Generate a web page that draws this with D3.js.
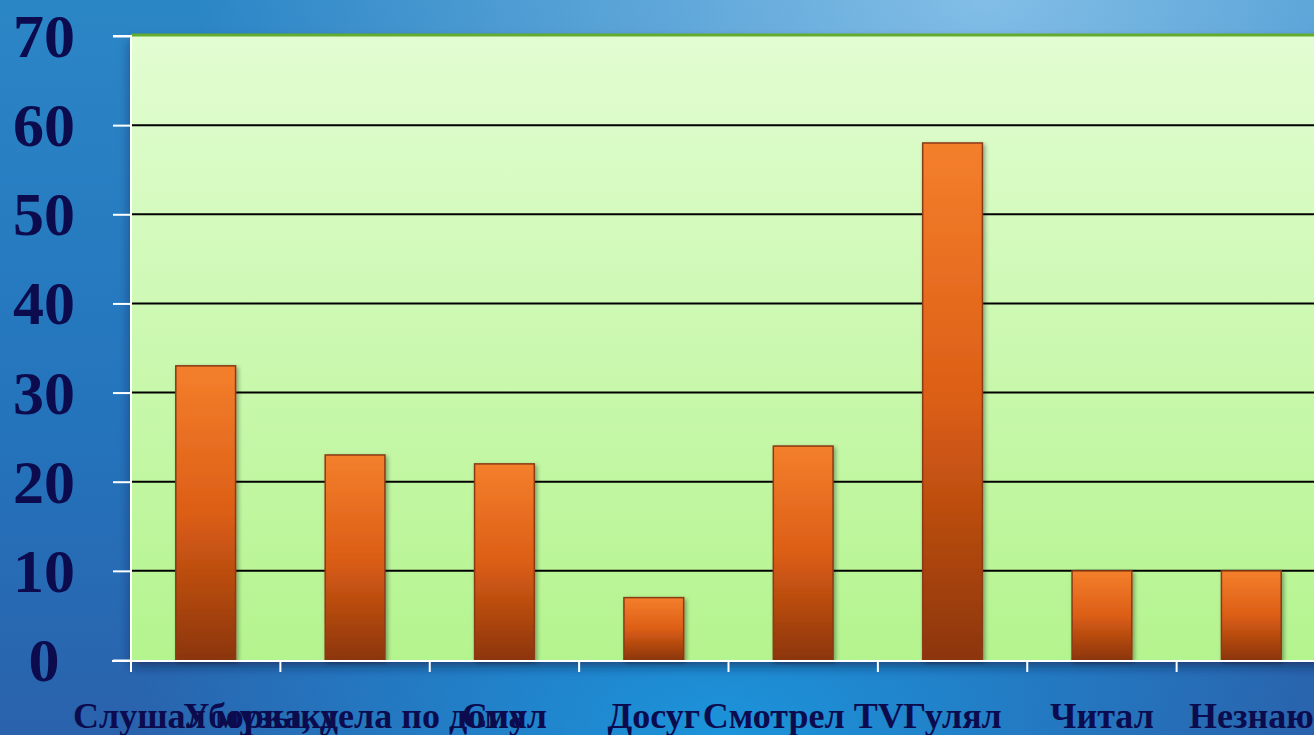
<!DOCTYPE html>
<html>
<head>
<meta charset="utf-8">
<script src="https://cdn.jsdelivr.net/npm/d3@7"></script>
<style>
  html, body { margin: 0; padding: 0; overflow: hidden; }
  svg { display: block; }
</style>
</head>
<body>
<div id="content"></div>
<script>
// Данные диаграммы
const categories = ['Слушал музыку', 'Уборка, дела по дому', 'Спал', 'Досуг', 'Смотрел TV', 'Гулял', 'Читал', 'Незнаю'];
const values = [33, 23, 22, 7, 24, 58, 10, 10];
const yTicks = [0, 10, 20, 30, 40, 50, 60, 70];

const width = 1314;
const height = 735;
const plotLeft = 131, plotTop = 36, plotBottom = 660, plotRight = 1326;

const svg = d3.select('#content')
    .append('svg')
    .attr('width', width)
    .attr('height', height);

const defs = svg.append('defs');

// Фон слайда
const bg = defs.append('linearGradient').attr('id', 'bg')
    .attr('x1', 0).attr('y1', 0).attr('x2', 0).attr('y2', 1);
bg.append('stop').attr('offset', '0%').attr('stop-color', '#2b86c6');
bg.append('stop').attr('offset', '60%').attr('stop-color', '#2473bb');
bg.append('stop').attr('offset', '100%').attr('stop-color', '#2a62ac');

const glow = defs.append('radialGradient').attr('id', 'glow')
    .attr('cx', 0.75).attr('cy', 0).attr('r', 0.6);
glow.append('stop').attr('offset', '0%').attr('stop-color', '#8cc4ea').attr('stop-opacity', 0.9);
glow.append('stop').attr('offset', '100%').attr('stop-color', '#8cc4ea').attr('stop-opacity', 0);

const glow2 = defs.append('radialGradient').attr('id', 'glow2')
    .attr('cx', 0.55).attr('cy', 1).attr('r', 0.45);
glow2.append('stop').attr('offset', '0%').attr('stop-color', '#1a9ae0').attr('stop-opacity', 0.9);
glow2.append('stop').attr('offset', '100%').attr('stop-color', '#1a9ae0').attr('stop-opacity', 0);

svg.append('rect').attr('width', width).attr('height', height).attr('fill', 'url(#bg)');
svg.append('rect').attr('width', width).attr('height', height).attr('fill', 'url(#glow)');
svg.append('rect').attr('width', width).attr('height', height).attr('fill', 'url(#glow2)');

// Фон области построения
const plotBg = defs.append('linearGradient').attr('id', 'plotBg')
    .attr('x1', 0).attr('y1', 0).attr('x2', 0).attr('y2', 1);
plotBg.append('stop').attr('offset', '0%').attr('stop-color', '#e2fdd2');
plotBg.append('stop').attr('offset', '100%').attr('stop-color', '#b4f48e');

const barGrad = defs.append('linearGradient').attr('id', 'barGrad')
    .attr('x1', 0).attr('y1', 0).attr('x2', 0).attr('y2', 1);
barGrad.append('stop').attr('offset', '0%').attr('stop-color', '#f47f2c');
barGrad.append('stop').attr('offset', '50%').attr('stop-color', '#dc5e16');
barGrad.append('stop').attr('offset', '100%').attr('stop-color', '#8c3508');

const shadow = defs.append('filter').attr('id', 'shadow')
    .attr('x', '-20%').attr('y', '-20%').attr('width', '140%').attr('height', '140%');
shadow.append('feDropShadow').attr('dx', 2).attr('dy', 2).attr('stdDeviation', 2)
    .attr('flood-color', '#000').attr('flood-opacity', 0.35);

const plotShadow = defs.append('filter').attr('id', 'plotShadow')
    .attr('x', '-5%').attr('y', '-5%').attr('width', '110%').attr('height', '115%');
plotShadow.append('feDropShadow').attr('dx', 0).attr('dy', 6).attr('stdDeviation', 6)
    .attr('flood-color', '#0a1a40').attr('flood-opacity', 0.6);

// Шкалы
const xScale = d3.scaleBand()
    .domain(categories)
    .range([plotLeft, plotRight])
    .paddingInner(0.6)
    .paddingOuter(0.3);

const xStep = d3.scaleBand().domain(categories).range([plotLeft, plotRight]);

const yScale = d3.scaleLinear()
    .domain([0, 70])
    .range([plotBottom, plotTop]);

svg.append('rect')
    .attr('x', plotLeft).attr('y', plotTop)
    .attr('width', plotRight - plotLeft).attr('height', plotBottom - plotTop)
    .attr('fill', 'url(#plotBg)')
    .attr('filter', 'url(#plotShadow)');

svg.append('line')
    .attr('x1', plotLeft).attr('x2', plotRight)
    .attr('y1', plotTop - 1).attr('y2', plotTop - 1)
    .attr('stroke', '#64ac2e').attr('stroke-width', 3);

// Сетка
svg.append('g')
    .selectAll('line')
    .data(yTicks.filter(d => d > 0 && d < 70))
    .enter()
    .append('line')
    .attr('x1', plotLeft).attr('x2', plotRight)
    .attr('y1', d => yScale(d)).attr('y2', d => yScale(d))
    .attr('stroke', '#000').attr('stroke-width', 2);

// Столбцы
svg.append('g')
    .selectAll('rect')
    .data(values)
    .enter()
    .append('rect')
    .attr('x', (d, i) => xScale(categories[i]))
    .attr('y', d => yScale(d))
    .attr('width', xScale.bandwidth())
    .attr('height', d => plotBottom - yScale(d))
    .attr('fill', 'url(#barGrad)')
    .attr('stroke', '#8a3a14')
    .attr('stroke-width', 1.5)
    .attr('filter', 'url(#shadow)');

// Ось Y
const yAxis = d3.axisLeft(yScale).tickValues(yTicks).tickSize(18).tickFormat('');
const gy = svg.append('g')
    .attr('transform', `translate(${plotLeft}, 0)`)
    .call(yAxis);
gy.selectAll('path, line').attr('stroke', '#fff').attr('stroke-width', 2);
gy.select('.domain').attr('d', `M-18,${plotTop}H0V${plotBottom}`);

svg.append('g')
    .selectAll('text')
    .data(yTicks)
    .enter()
    .append('text')
    .attr('x', 44)
    .attr('y', d => yScale(d) + 21)
    .attr('text-anchor', 'middle')
    .attr('fill', '#0b0b4e')
    .style('font-family', '"Liberation Serif", "Times New Roman", serif')
    .style('font-weight', 'bold')
    .style('font-size', '62px')
    .text(d => d);

// Ось X
const gx = svg.append('g')
    .attr('transform', `translate(0, ${plotBottom + 1})`);

gx.append('path')
    .attr('d', `M${plotLeft - 19},0H${plotRight}`)
    .attr('stroke', '#fff').attr('stroke-width', 2);

gx.selectAll('.xtick')
    .data(categories)
    .enter()
    .append('line')
    .attr('class', 'xtick')
    .attr('x1', d => xStep(d)).attr('x2', d => xStep(d))
    .attr('y1', 0).attr('y2', 11)
    .attr('stroke', '#fff').attr('stroke-width', 2);

svg.append('g')
    .selectAll('text')
    .data(categories)
    .enter()
    .append('text')
    .attr('x', d => xStep(d) + xStep.bandwidth() / 2)
    .attr('y', 728)
    .attr('text-anchor', 'middle')
    .attr('fill', '#0b0b4e')
    .style('font-family', '"Liberation Serif", "Times New Roman", serif')
    .style('font-weight', 'bold')
    .style('font-size', '36px')
    .text(d => d);
</script>
</body>
</html>
